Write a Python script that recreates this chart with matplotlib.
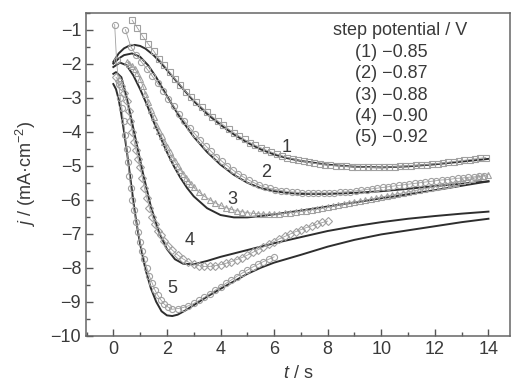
import numpy as np
import matplotlib
matplotlib.use('Agg')
import matplotlib.pyplot as plt
from matplotlib.ticker import MultipleLocator

plt.rcParams['font.family'] = ['Liberation Sans', 'DejaVu Sans']
plt.rcParams['mathtext.fontset'] = 'custom'
plt.rcParams['mathtext.rm'] = 'Liberation Sans'
plt.rcParams['mathtext.it'] = 'Liberation Sans:italic'

# experimental transients (open markers)
t1_start = 0.7
j_exp1 = [-0.72, -0.95, -1.2, -1.42, -1.62, -1.85, -2.05, -2.25, -2.45, -2.63,
          -2.82, -2.98, -3.13, -3.28, -3.42, -3.56, -3.68, -3.8, -3.92, -4.03,
          -4.13, -4.23, -4.32, -4.4, -4.47, -4.54, -4.6, -4.66, -4.71, -4.76,
          -4.8, -4.84, -4.87, -4.9, -4.93, -4.95, -4.97, -4.99, -5.0, -5.01,
          -5.02, -5.03, -5.04, -5.04, -5.05, -5.05, -5.05, -5.04, -5.04, -5.03,
          -5.02, -5.01, -5.0, -4.99, -4.98, -4.97, -4.95, -4.94, -4.92, -4.9,
          -4.88, -4.86, -4.84, -4.82, -4.8, -4.78, -4.76]

t2_start = 0.45
j_exp2 = [-1.0, -1.5, -1.75, -1.95, -2.15, -2.36, -2.58, -2.8, -3.03, -3.25,
          -3.47, -3.68, -3.88, -4.07, -4.25, -4.42, -4.58, -4.73, -4.87, -5.0,
          -5.12, -5.23, -5.33, -5.42, -5.5, -5.57, -5.63, -5.67, -5.7, -5.73,
          -5.75, -5.77, -5.78, -5.79, -5.8, -5.8, -5.8, -5.8, -5.8, -5.79,
          -5.78, -5.77, -5.76, -5.74, -5.72, -5.7, -5.68, -5.66, -5.64, -5.62,
          -5.6, -5.58, -5.56, -5.54, -5.52, -5.5, -5.48, -5.46, -5.44, -5.42,
          -5.41, -5.39, -5.37, -5.36, -5.34, -5.33, -5.31, -5.3]

t3a_start = 0.5
j_exp3a = [-1.95, -2.0, -2.06, -2.15, -2.28, -2.45, -2.65, -2.88, -3.12, -3.36,
           -3.58, -3.8, -3.98, -4.14, -4.3, -4.45, -4.6, -4.74, -4.87, -5.0,
           -5.12, -5.24, -5.35, -5.45, -5.55, -5.64]
t3b_start = 3.2
j_exp3b = [-5.78, -5.9, -6.0, -6.09, -6.17, -6.23, -6.28, -6.32, -6.35, -6.38,
           -6.4, -6.41, -6.42, -6.42, -6.42, -6.41, -6.4, -6.38, -6.36, -6.34,
           -6.32, -6.3, -6.28, -6.25, -6.22, -6.19, -6.16, -6.13, -6.1, -6.07,
           -6.04, -6.01, -5.98, -5.95, -5.92, -5.89, -5.86, -5.83, -5.8, -5.77,
           -5.74, -5.71, -5.68, -5.65, -5.62, -5.59, -5.56, -5.53, -5.5, -5.46,
           -5.42, -5.38, -5.34, -5.3, -5.26]

t_exp4 = [0.1, 0.2, 0.3, 0.4, 0.5, 0.57, 0.64, 0.71, 0.78, 0.85, 0.92, 1.0, 1.08,
          1.16, 1.25, 1.35, 1.45, 1.55, 1.65, 1.78, 1.9, 2.05, 2.2, 2.4, 2.6, 2.8,
          3.0, 3.2, 3.4, 3.6, 3.8, 4.0, 4.2, 4.4, 4.6, 4.8, 5.0, 5.2, 5.4, 5.6,
          5.8, 6.0, 6.2, 6.4, 6.6, 6.8, 7.0, 7.2, 7.4, 7.6, 7.8, 8.0]
j_exp4 = [-2.4, -2.5, -2.65, -2.85, -3.1, -3.4, -3.7, -4.0, -4.3, -4.55, -4.8,
          -5.05, -5.35, -5.65, -5.95, -6.25, -6.5, -6.72, -6.92, -7.05, -7.2,
          -7.35, -7.48, -7.62, -7.74, -7.83, -7.9, -7.94, -7.96, -7.96, -7.94,
          -7.91, -7.87, -7.82, -7.76, -7.7, -7.63, -7.55, -7.47, -7.39, -7.31,
          -7.23, -7.15, -7.08, -7.01, -6.94, -6.88, -6.82, -6.77, -6.72, -6.67,
          -6.63]

t_exp5 = [0.05, 0.12, 0.2, 0.26, 0.32, 0.38, 0.44, 0.5, 0.55, 0.6, 0.65, 0.7,
          0.77, 0.85, 0.93, 1.0, 1.08, 1.16, 1.25, 1.35, 1.45, 1.55, 1.65, 1.78,
          1.9, 2.05, 2.2, 2.4, 2.6, 2.8, 3.0, 3.2, 3.4, 3.6, 3.8, 4.0, 4.2, 4.4,
          4.6, 4.8, 5.0, 5.2, 5.4, 5.6, 5.8, 6.0]
j_exp5 = [-0.85, -1.9, -2.6, -3.0, -3.3, -3.7, -4.1, -4.5, -4.9, -5.3, -5.65,
          -6.0, -6.3, -6.65, -6.95, -7.25, -7.5, -7.75, -8.0, -8.25, -8.45,
          -8.65, -8.8, -8.95, -9.07, -9.16, -9.22, -9.2, -9.17, -9.12, -9.05,
          -8.96, -8.87, -8.77, -8.66, -8.56, -8.46, -8.36, -8.26, -8.16, -8.07,
          -7.98, -7.9, -7.82, -7.75, -7.68]

# fitted curves (solid lines)
t_fit1 = [0.0, 0.2, 0.4, 0.6, 0.8, 1.0, 1.2, 1.5, 1.8, 2.1, 2.5, 3.0, 3.5, 4.0,
          4.5, 5.0, 5.5, 6.0, 6.5, 7.0, 8.0, 9.0, 10.0, 11.0, 12.0, 13.0, 14.0]
j_fit1 = [-1.95, -1.7, -1.55, -1.47, -1.45, -1.48, -1.56, -1.75, -2.0, -2.28,
          -2.65, -3.1, -3.48, -3.8, -4.08, -4.32, -4.52, -4.67, -4.78, -4.86,
          -4.97, -5.03, -5.05, -5.02, -4.96, -4.88, -4.8]

t_fit2 = [0.0, 0.2, 0.4, 0.7, 1.0, 1.3, 1.6, 2.0, 2.5, 3.0, 3.5, 4.0, 4.5, 5.0,
          5.5, 6.0, 6.5, 7.0, 8.0, 9.0, 10.0, 11.0, 12.0, 13.0, 14.0]
j_fit2 = [-2.0, -1.85, -1.75, -1.7, -1.8, -2.05, -2.4, -2.95, -3.6, -4.15, -4.6,
          -4.97, -5.27, -5.5, -5.66, -5.75, -5.8, -5.83, -5.83, -5.8, -5.75,
          -5.68, -5.6, -5.53, -5.46]

t_fit3 = [0.0, 0.25, 0.5, 0.75, 1.0, 1.25, 1.5, 1.75, 2.0, 2.25, 2.5, 2.75, 3.0,
          3.5, 4.0, 4.5, 5.0, 5.5, 6.0, 7.0, 8.0, 9.0, 10.0, 11.0, 12.0, 13.0,
          14.0]
j_fit3 = [-2.1, -1.97, -2.05, -2.35, -2.75, -3.2, -3.7, -4.15, -4.6, -5.0, -5.35,
          -5.65, -5.9, -6.25, -6.45, -6.52, -6.52, -6.48, -6.43, -6.32, -6.2,
          -6.08, -5.96, -5.84, -5.72, -5.59, -5.46]

t_fit4 = [0.0, 0.1, 0.3, 0.5, 0.8, 1.1, 1.4, 1.7, 2.0, 2.3, 2.6, 3.0, 3.5, 4.0,
          4.5, 5.0, 6.0, 7.0, 8.0, 9.0, 10.0, 11.0, 12.0, 13.0, 14.0]
j_fit4 = [-2.3, -2.25, -2.4, -3.0, -4.1, -5.2, -6.2, -6.95, -7.45, -7.75, -7.88,
          -7.9, -7.8, -7.68, -7.58, -7.48, -7.28, -7.1, -6.92, -6.78, -6.66,
          -6.56, -6.48, -6.41, -6.35]

t_fit5 = [0.0, 0.1, 0.2, 0.3, 0.4, 0.5, 0.6, 0.7, 0.8, 0.9, 1.0, 1.2, 1.4, 1.6,
          1.8, 2.0, 2.2, 2.4, 2.7, 3.0, 3.5, 4.0, 4.5, 5.0, 5.5, 6.0, 7.0, 8.0,
          9.0, 10.0, 11.0, 12.0, 13.0, 14.0]
j_fit5 = [-2.6, -2.75, -3.05, -3.5, -4.0, -4.55, -5.15, -5.75, -6.35, -6.85,
          -7.3, -8.05, -8.6, -9.0, -9.28, -9.4, -9.42, -9.38, -9.25, -9.1, -8.85,
          -8.62, -8.4, -8.18, -8.0, -7.85, -7.62, -7.38, -7.18, -7.02, -6.9,
          -6.78, -6.66, -6.56]

potentials = ['\u22120.85', '\u22120.87', '\u22120.88', '\u22120.90', '\u22120.92']
curve_labels = ['1', '2', '3', '4', '5']
label_t = [6.45, 5.7, 4.43, 2.86, 2.2]
label_j = [-4.47, -5.2, -6.0, -7.2, -8.6]


def grid_t(start, values, step):
    return start + step * np.arange(len(values))


exp_series = [
    (grid_t(t1_start, j_exp1, 0.2), j_exp1, 's'),
    (grid_t(t2_start, j_exp2, 0.2), j_exp2, 'o'),
    (np.concatenate([grid_t(t3a_start, j_exp3a, 0.1), grid_t(t3b_start, j_exp3b, 0.2)]),
     j_exp3a + j_exp3b, '^'),
    (np.array(t_exp4), j_exp4, 'D'),
    (np.array(t_exp5), j_exp5, 'o'),
]
fit_series = [(t_fit1, j_fit1), (t_fit2, j_fit2), (t_fit3, j_fit3),
              (t_fit4, j_fit4), (t_fit5, j_fit5)]

fig = plt.figure(figsize=(5.14, 3.82), dpi=100)
ax = fig.add_axes([0.1673, 0.121, 0.8247, 0.846])

for tt, jj in fit_series:
    ax.plot(tt, jj, color='#2e2e2e', lw=1.4, zorder=2)

for tt, jj, mk in exp_series:
    ms = 3.6 if mk == 'D' else 4.4
    ax.plot(tt, jj, color='#a0a0a0', lw=0.6, marker=mk, ms=ms, mfc='none',
            mec='#a0a0a0', mew=0.8, zorder=3)

for lab, tx, jy in zip(curve_labels, label_t, label_j):
    ax.text(tx, jy, lab, fontsize=13, color='#3a3a3a', ha='center', va='center')

ax.text(0.74, 0.946, 'step potential / V', transform=ax.transAxes, fontsize=13,
        color='#3a3a3a', ha='center', va='center')
for i, (lab, pot) in enumerate(zip(curve_labels, potentials)):
    ax.text(0.72, 0.878 - i * 0.0665, f'({lab}) {pot}', transform=ax.transAxes,
            fontsize=13, color='#3a3a3a', ha='center', va='center')

ax.set_xlim(-1.02, 14.8)
ax.set_ylim(-10, -0.5)
ax.xaxis.set_major_locator(MultipleLocator(2))
ax.xaxis.set_minor_locator(MultipleLocator(1))
ax.yaxis.set_major_locator(MultipleLocator(1))
ax.yaxis.set_minor_locator(MultipleLocator(0.5))
ax.tick_params(which='both', direction='in', colors='#555555', labelcolor='#3a3a3a',
               labelsize=13, top=False, right=False)
ax.tick_params(which='major', length=5, width=1)
ax.tick_params(which='minor', length=3, width=1)
for sp in ax.spines.values():
    sp.set_color('#666666')
    sp.set_linewidth(1.1)

ax.set_xlabel('$t$ / s', fontsize=13, color='#3a3a3a', labelpad=5)
ax.set_ylabel('$j$ / (mA\u00b7cm$^{-2}$)', fontsize=13, color='#3a3a3a', labelpad=9)

fig.savefig('out.png', dpi=100)
